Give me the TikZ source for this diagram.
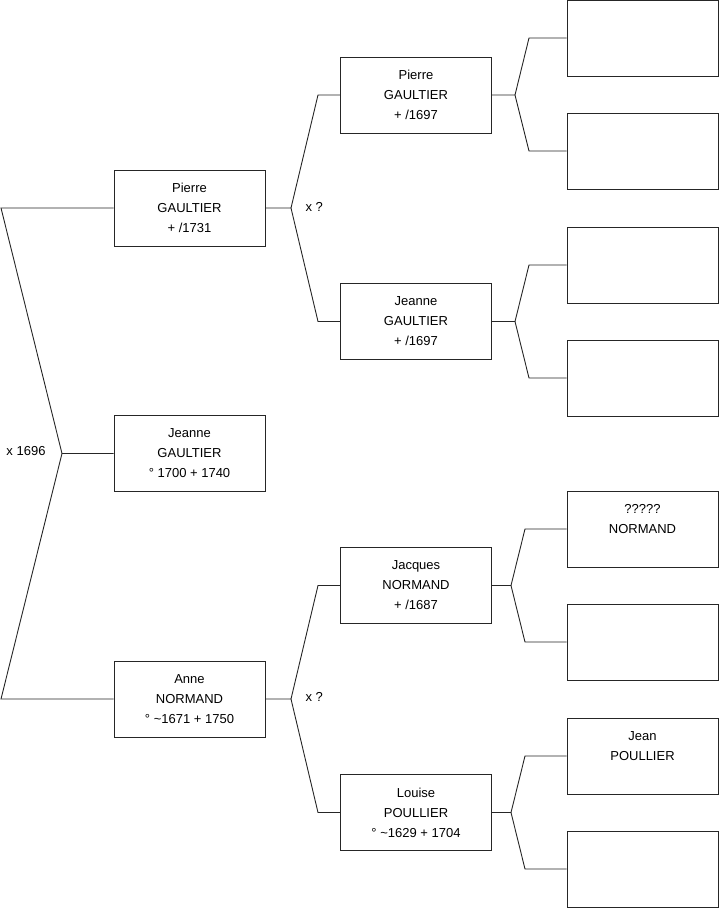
\documentclass[tikz,border=0pt]{standalone}
\usepackage{fontspec}
\setmainfont{Liberation Sans}
\usetikzlibrary{positioning}
\tikzset{
  personbox/.style={draw=black!85, line width=0.9pt, minimum width=151pt,
    minimum height=76pt, inner sep=0pt, align=center,
    font=\fontsize{13}{20}\selectfont},
  link/.style={draw=black!85, line width=0.9pt},
  marriage/.style={font=\fontsize{13}{16}\selectfont},
}
\begin{document}
\begin{tikzpicture}[x=1pt, y=-1pt]
  \useasboundingbox (0,0) rectangle (719,908);

  % Generation 1
  \node[personbox] (jeanne) at (189.5,453.5) {Jeanne\\GAULTIER\\° 1700 + 1740};

  % Generation 2 -- parents
  \node[personbox] (pierre) at (189.5,208) {Pierre\\GAULTIER\\+ /1731};
  \node[personbox] (anne) at (189.5,699) {Anne\\NORMAND\\° \textasciitilde1671 + 1750};

  % Generation 3 -- grandparents
  \node[personbox] (pierreG) at (416,95) {Pierre\\GAULTIER\\+ /1697};
  \node[personbox] (jeanneG) at (416,321.5) {Jeanne\\GAULTIER\\+ /1697};
  \node[personbox] (jacques) at (416,585.5) {Jacques\\NORMAND\\+ /1687};
  \node[personbox] (louise) at (416,812.5) {Louise\\POULLIER\\° \textasciitilde1629 + 1704};

  % Generation 4 -- great-grandparents
  \node[personbox] (gg1) at (642.5,38) {};
  \node[personbox] (gg2) at (642.5,151) {};
  \node[personbox] (gg3) at (642.5,265) {};
  \node[personbox] (gg4) at (642.5,378) {};
  \node[personbox] (gg5) at (642.5,529) {?????\\NORMAND\\~};
  \node[personbox] (gg6) at (642.5,642) {};
  \node[personbox] (gg7) at (642.5,756) {Jean\\POULLIER\\~};
  \node[personbox] (gg8) at (642.5,869) {};

  % Forks and bends
  \coordinate (forkJ) at (62,453.5);
  \coordinate (bendJa) at (1,208);
  \coordinate (bendJb) at (1,699);
  \coordinate (forkP) at (291,208);
  \coordinate (bendPa) at (318,95);
  \coordinate (bendPb) at (318,321.5);
  \coordinate (forkA) at (291,699);
  \coordinate (bendAa) at (318,585.5);
  \coordinate (bendAb) at (318,812.5);
  \coordinate (fork1) at (515,95);
  \coordinate (bend1a) at (529,38);
  \coordinate (bend1b) at (529,151);
  \coordinate (fork2) at (515,321.5);
  \coordinate (bend2a) at (529,265);
  \coordinate (bend2b) at (529,378);
  \coordinate (fork3) at (511,585.5);
  \coordinate (bend3a) at (525,529);
  \coordinate (bend3b) at (525,642);
  \coordinate (fork4) at (511,812.5);
  \coordinate (bend4a) at (525,756);
  \coordinate (bend4b) at (525,869);

  % Connectors
  \draw[link] (jeanne.west) -- (forkJ) -- (bendJa) -- (pierre.west);
  \draw[link] (forkJ) -- (bendJb) -- (anne.west);
  \draw[link] (pierre.east) -- (forkP) -- (bendPa) -- (pierreG.west);
  \draw[link] (forkP) -- (bendPb) -- (jeanneG.west);
  \draw[link] (anne.east) -- (forkA) -- (bendAa) -- (jacques.west);
  \draw[link] (forkA) -- (bendAb) -- (louise.west);
  \draw[link] (pierreG.east) -- (fork1) -- (bend1a) -- (gg1.west);
  \draw[link] (fork1) -- (bend1b) -- (gg2.west);
  \draw[link] (jeanneG.east) -- (fork2) -- (bend2a) -- (gg3.west);
  \draw[link] (fork2) -- (bend2b) -- (gg4.west);
  \draw[link] (jacques.east) -- (fork3) -- (bend3a) -- (gg5.west);
  \draw[link] (fork3) -- (bend3b) -- (gg6.west);
  \draw[link] (louise.east) -- (fork4) -- (bend4a) -- (gg7.west);
  \draw[link] (fork4) -- (bend4b) -- (gg8.west);

  % Marriage labels
  \node[marriage] (mJ) at (26,451) {x 1696};
  \node[marriage, anchor=west] (mP) at (302,207) {x ?};
  \node[marriage, anchor=west] (mA) at (302,697) {x ?};
\end{tikzpicture}
\end{document}
